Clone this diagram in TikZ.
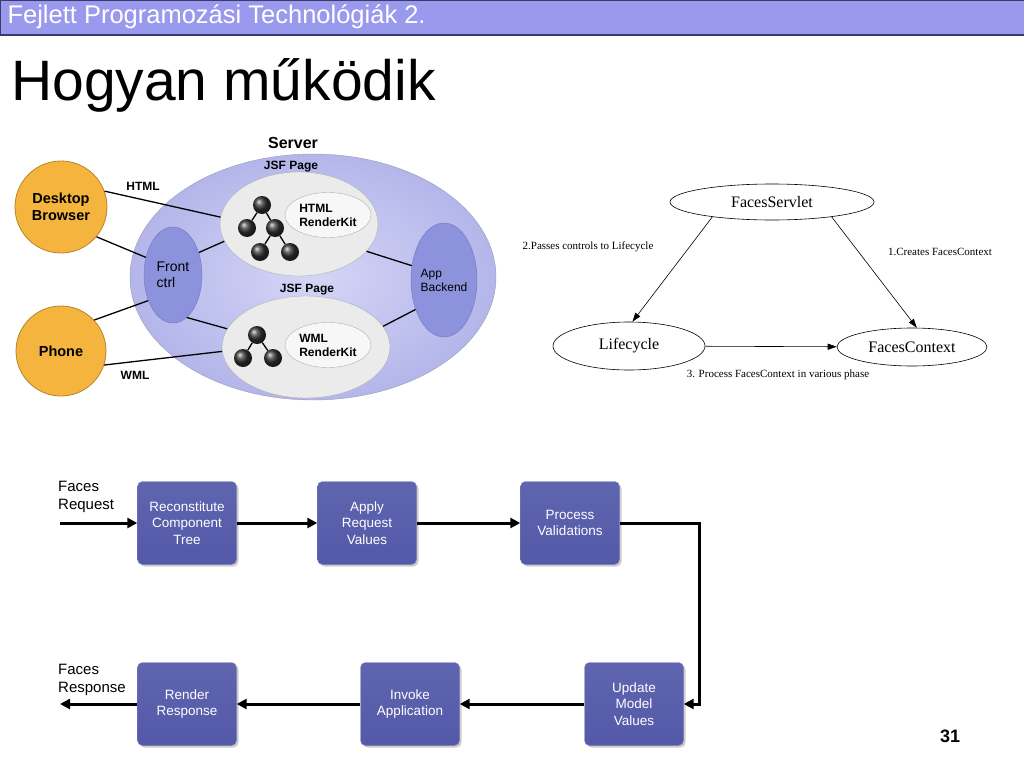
\documentclass[tikz,border=0pt]{standalone}
\usepackage{fontspec}
\setmainfont{Liberation Sans}
\newfontfamily\gvfont{Liberation Serif}
\usetikzlibrary{positioning, calc, shapes.geometric, arrows.meta, shadows}
\definecolor{headerblue}{HTML}{9999EE}
\definecolor{headerline}{HTML}{3A3A6A}
\definecolor{serverfill}{HTML}{C9CBF4}
\definecolor{serveredge}{HTML}{B4B6EA}
\definecolor{serverline}{HTML}{9A9CB8}
\definecolor{ctrlfill}{HTML}{8C92DC}
\definecolor{ctrlline}{HTML}{7278C0}
\definecolor{pagefill}{HTML}{EBEBEB}
\definecolor{clientfill}{HTML}{F4B43E}
\definecolor{clientline}{HTML}{B88428}
\definecolor{phasefill}{HTML}{5359A8}
\definecolor{phaseline}{HTML}{7C82C4}

\begin{document}
\begin{tikzpicture}[
        x=1pt, y=-1pt,
        client/.style={circle, draw=clientline, fill=clientfill, line width=0.8pt, minimum size=92pt, inner sep=0pt, align=center, font=\bfseries\fontsize{14.5}{17}\selectfont},
        page/.style={ellipse, draw=gray!60, fill=pagefill, inner sep=0pt},
        kit/.style={ellipse, draw=gray!60, fill=gray!6, minimum width=86pt, minimum height=45pt, inner sep=0pt, align=left, font=\bfseries\fontsize{12}{14}\selectfont},
        ctrl/.style={ellipse, draw=ctrlline, fill=ctrlfill, inner sep=0pt, align=left},
        leaf/.style={circle, ball color=gray!40!black, minimum size=18pt, inner sep=0pt},
        tag/.style={font=\bfseries\fontsize{12}{14}\selectfont},
        link/.style={line width=1.3pt},
        gvnode/.style={ellipse, draw, line width=0.6pt, inner sep=0pt, font=\gvfont\fontsize{16}{18}\selectfont},
        gvlabel/.style={font=\gvfont\fontsize{11}{13}\selectfont},
        gvarrow/.style={-{Triangle[length=9pt,width=6pt]}, line width=0.6pt},
        phase/.style={rectangle, rounded corners=5pt, draw=phaseline, top color=phasefill!93!white, bottom color=phasefill, text=white, minimum width=99pt, minimum height=83pt, inner sep=0pt, align=center, font=\fontsize{13.5}{16.5}\selectfont, drop shadow={shadow xshift=2pt, shadow yshift=-2pt, opacity=0.4}},
        flow/.style={-{Triangle[length=10pt,width=10pt]}, line width=3pt}
    ]
    \useasboundingbox (0,0) rectangle (1024,768);

    % Header
    \node (header) [anchor=north west, fill=headerblue, draw=headerline, line width=0.6pt, minimum width=1024pt, minimum height=34pt, inner sep=0pt] at (0,0) {};
    \draw [headerline, line width=2pt] (header.south west) -- (header.south east);
    \node (header_text) [anchor=west, text=white, font=\fontsize{25.5}{30}\selectfont] at (4,17) {Fejlett Programozási Technológiák 2.};
    \node (title) [anchor=base west, inner sep=0pt, font=\fontsize{57}{62}\selectfont] at (11,100) {Hogyan működik};

    % Server nodes
    \node (server) [ellipse, draw=serverline, inner color=serverfill!80!white, outer color=serveredge, minimum width=366pt, minimum height=246pt, inner sep=0pt] at (313,277) {};
    \node (server_label) [font=\bfseries\fontsize{16}{18}\selectfont] at (293,143) {Server};
    \node (page_top_label) [tag] at (291,167) {JSF Page};
    \node (page_top) [page, minimum width=158pt, minimum height=104pt] at (299,224) {};
    \node (kit_html) [kit] at (328,215) {HTML\\RenderKit};
    \node (page_bot_label) [tag] at (307,290) {JSF Page};
    \node (page_bot) [page, minimum width=168pt, minimum height=102pt] at (306,347) {};
    \node (kit_wml) [kit] at (328,345) {WML\\RenderKit};
    \node (front_ctrl) [ctrl, minimum width=58pt, minimum height=96pt, font=\fontsize{14}{16}\selectfont] at (173,275) {Front\\ctrl};
    \node (app_backend) [ctrl, minimum width=64pt, minimum height=114pt, font=\fontsize{12}{14}\selectfont] at (444,280) {App\\Backend};
    \node (desktop) [client] at (61,207) {Desktop\\Browser};
    \node (phone) [client, minimum size=90pt] at (61,351) {Phone};
    \node (html_tag) [tag] at (143,186) {HTML};
    \node (wml_tag) [tag] at (135,375) {WML};

    % Component trees
    \node (html_root) [leaf] at (262,205) {};
    \node (html_a) [leaf] at (247,228) {};
    \node (html_b) [leaf] at (275,228) {};
    \node (html_c) [leaf] at (260,252) {};
    \node (html_d) [leaf] at (290,252) {};
    \node (wml_root) [leaf] at (257,335) {};
    \node (wml_a) [leaf] at (243,358) {};
    \node (wml_b) [leaf] at (273,358) {};
    \draw [link] (html_root) -- (html_a);
    \draw [link] (html_root) -- (html_b);
    \draw [link] (html_b) -- (html_c);
    \draw [link] (html_b) -- (html_d);
    \draw [link] (wml_root) -- (wml_a);
    \draw [link] (wml_root) -- (wml_b);

    % Server links
    \draw [link] (desktop.20) -- (page_top.175);
    \draw [link] (desktop.320) -- (front_ctrl.147);
    \draw [link] (front_ctrl.41) -- (page_top.193);
    \draw [link] (front_ctrl.288) -- (page_bot.167);
    \draw [link] (phone.43) -- (front_ctrl.226);
    \draw [link] (phone.342) -- (page_bot.183);
    \draw [link] (page_top.338) -- (app_backend.156);
    \draw [link] (page_bot.15) -- (app_backend.226);

    % Lifecycle graph
    \node (servlet) [gvnode, minimum width=204pt, minimum height=36pt] at (772,202) {FacesServlet};
    \node (lifecycle) [gvnode, minimum width=152pt, minimum height=48pt] at (629,346) {Lifecycle};
    \node (context) [gvnode, minimum width=150pt, minimum height=38pt] at (912,347) {FacesContext};
    \node (lbl_passes) [gvlabel] at (588,247) {2.Passes controls to Lifecycle};
    \node (lbl_creates) [gvlabel] at (940,252) {1.Creates FacesContext};
    \node (lbl_process) [gvlabel] at (778,375) {3. Process FacesContext in various phase};
    \draw [gvarrow] (servlet.194) -- (lifecycle.82);
    \draw [gvarrow] (servlet.346) -- (context.76);
    \draw [gvarrow] (lifecycle) -- (context);

    % Phases
    \node (reconstitute) [phase] at (187,523) {Reconstitute\\Component\\Tree};
    \node (apply) [phase] at (367,523) {Apply\\Request\\Values};
    \node (validate) [phase] at (570,523) {Process\\Validations};
    \node (update) [phase] at (634,704) {Update\\Model\\Values};
    \node (invoke) [phase] at (410,704) {Invoke\\Application};
    \node (render) [phase] at (187,704) {Render\\Response};
    \coordinate (req_in) at (60,523);
    \coordinate (resp_out) at (60,704);
    \coordinate (loop_turn) at (699,704);
    \node (req_label) [anchor=west, align=left, inner sep=0pt, font=\fontsize{15}{18}\selectfont] at (58,497) {Faces\\Request};
    \node (resp_label) [anchor=west, align=left, inner sep=0pt, font=\fontsize{15}{18}\selectfont] at (58,680) {Faces\\Response};

    % Arrows
    \draw [flow] (req_in) -- (reconstitute);
    \draw [flow] (reconstitute) -- (apply);
    \draw [flow] (apply) -- (validate);
    \draw [flow] (validate.east) -| (loop_turn) -- (update.east);
    \draw [flow] (update) -- (invoke);
    \draw [flow] (invoke) -- (render);
    \draw [flow] (render) -- (resp_out);

    \node (page_no) [font=\bfseries\fontsize{18}{20}\selectfont] at (950,736) {31};
\end{tikzpicture}
\end{document}
